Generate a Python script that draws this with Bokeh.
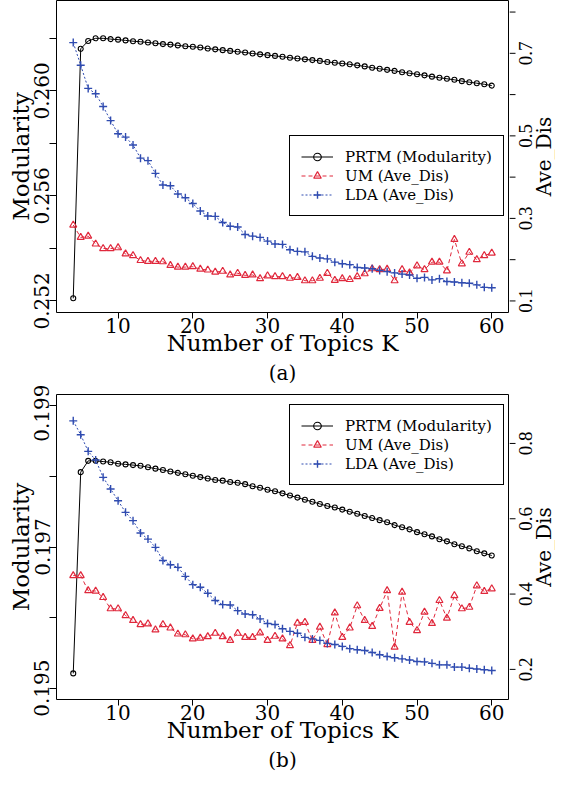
import math
from bokeh.plotting import figure
from bokeh.models import (Range1d, FixedTicker, Legend, LegendItem,
                          Title, Label, LabelSet, ColumnDataSource,
                          NumeralTickFormatter)
from bokeh.layouts import column, row
from bokeh.embed import file_html
from bokeh.resources import INLINE

# ---------------- data ----------------
K = list(range(4, 61))

prtm_a = [0.25210, 0.26160, 0.26190, 0.26200, 0.26200, 0.26197, 0.26195, 0.26192,
          0.26189, 0.26187, 0.26184, 0.26181, 0.26178, 0.26176, 0.26173, 0.26170,
          0.26168, 0.26165, 0.26161, 0.26158, 0.26155, 0.26152, 0.26149, 0.26146,
          0.26142, 0.26139, 0.26136, 0.26133, 0.26130, 0.26126, 0.26123, 0.26120,
          0.26117, 0.26114, 0.26110, 0.26107, 0.26104, 0.26101, 0.26097, 0.26093,
          0.26088, 0.26084, 0.26080, 0.26076, 0.26071, 0.26067, 0.26063, 0.26059,
          0.26054, 0.26050, 0.26046, 0.26042, 0.26037, 0.26033, 0.26029, 0.26025,
          0.26020]
um_a = [0.284, 0.254, 0.257, 0.238, 0.227, 0.227, 0.229, 0.214, 0.210, 0.198,
        0.196, 0.196, 0.195, 0.186, 0.182, 0.182, 0.183, 0.177, 0.175, 0.170,
        0.172, 0.163, 0.167, 0.162, 0.163, 0.154, 0.161, 0.159, 0.159, 0.155,
        0.157, 0.149, 0.149, 0.155, 0.167, 0.150, 0.154, 0.152, 0.159, 0.166,
        0.178, 0.176, 0.177, 0.149, 0.176, 0.168, 0.185, 0.176, 0.194, 0.194,
        0.173, 0.249, 0.190, 0.218, 0.200, 0.210, 0.216]
lda_a = [0.726, 0.671, 0.615, 0.602, 0.571, 0.537, 0.505, 0.497, 0.478, 0.446,
         0.440, 0.409, 0.381, 0.379, 0.359, 0.350, 0.336, 0.318, 0.306, 0.305,
         0.290, 0.281, 0.279, 0.261, 0.257, 0.254, 0.245, 0.238, 0.237, 0.224,
         0.220, 0.219, 0.208, 0.204, 0.202, 0.194, 0.190, 0.188, 0.181, 0.180,
         0.178, 0.174, 0.171, 0.168, 0.165, 0.163, 0.155, 0.157, 0.151, 0.154,
         0.147, 0.146, 0.144, 0.143, 0.139, 0.133, 0.132]

prtm_b = [0.19521, 0.19806, 0.19822, 0.19822, 0.19821, 0.19820, 0.19818, 0.19817,
          0.19816, 0.19815, 0.19813, 0.19811, 0.19809, 0.19807, 0.19805, 0.19803,
          0.19801, 0.19799, 0.19797, 0.19795, 0.19794, 0.19792, 0.19791, 0.19789,
          0.19786, 0.19784, 0.19781, 0.19779, 0.19776, 0.19773, 0.19770, 0.19767,
          0.19764, 0.19761, 0.19758, 0.19756, 0.19753, 0.19750, 0.19747, 0.19744,
          0.19741, 0.19738, 0.19735, 0.19731, 0.19728, 0.19725, 0.19721, 0.19718,
          0.19715, 0.19711, 0.19708, 0.19704, 0.19701, 0.19698, 0.19694, 0.19691,
          0.19688]
um_b = [0.449, 0.449, 0.409, 0.408, 0.391, 0.361, 0.361, 0.343, 0.330, 0.319,
        0.321, 0.305, 0.319, 0.310, 0.294, 0.292, 0.281, 0.283, 0.287, 0.296,
        0.287, 0.277, 0.296, 0.285, 0.285, 0.297, 0.277, 0.288, 0.281, 0.263,
        0.323, 0.325, 0.277, 0.312, 0.266, 0.350, 0.285, 0.310, 0.369, 0.330,
        0.314, 0.362, 0.409, 0.259, 0.405, 0.325, 0.303, 0.352, 0.322, 0.383,
        0.336, 0.396, 0.361, 0.365, 0.422, 0.407, 0.414]
lda_b = [0.860, 0.823, 0.779, 0.756, 0.710, 0.679, 0.648, 0.617, 0.595, 0.562,
         0.546, 0.524, 0.489, 0.478, 0.471, 0.447, 0.425, 0.418, 0.402, 0.383,
         0.372, 0.371, 0.356, 0.347, 0.345, 0.334, 0.322, 0.319, 0.308, 0.301,
         0.296, 0.285, 0.281, 0.277, 0.269, 0.266, 0.261, 0.255, 0.252, 0.250,
         0.245, 0.239, 0.234, 0.231, 0.228, 0.225, 0.221, 0.220, 0.216, 0.212,
         0.212, 0.206, 0.206, 0.203, 0.201, 0.199, 0.197]

x_ticks = [10, 20, 30, 40, 50, 60]
left_a_major = [0.252, 0.256, 0.260]
left_a_minor = [0.254, 0.258, 0.262]
right_a_major = [0.1, 0.3, 0.5, 0.7]
right_a_minor = [0.2, 0.4, 0.6, 0.8]
left_b_major = [0.195, 0.197, 0.199]
left_b_minor = [0.196, 0.198]
right_b_major = [0.2, 0.4, 0.6, 0.8]
right_b_minor = []

labels = ["PRTM (Modularity)", "UM (Ave_Dis)", "LDA (Ave_Dis)"]

FONT = "DejaVu Serif"
RED = "#e0283c"
BLUE = "#2f4bb0"
X_RANGE = (1.76, 62.24)
FRAME_W = 452
SIDE_W = 46
TICK_LEN = 6


def style_axis(ax, tick_px="20px", title_px="23px", tick_out=7,
               lab_off=0, title_off=-3):
    ax.axis_line_color = None
    ax.major_tick_line_color = "black"
    ax.minor_tick_line_color = "black"
    ax.major_tick_in = 0
    ax.major_tick_out = tick_out
    ax.minor_tick_in = 0
    ax.minor_tick_out = tick_out
    ax.major_label_text_font = FONT
    ax.major_label_text_font_size = tick_px
    ax.major_label_text_color = "black"
    ax.major_label_standoff = lab_off
    ax.axis_label_text_font = FONT
    ax.axis_label_text_font_size = title_px
    ax.axis_label_text_font_style = "normal"
    ax.axis_label_text_color = "black"
    ax.axis_label_standoff = title_off


def make_panel(tag, prtm, um, lda, yl, yr, lmaj, lmin, rmaj, rmin,
               frame_h, top, legend_loc):
    p = figure(frame_width=FRAME_W, frame_height=frame_h,
               x_range=Range1d(*X_RANGE), y_range=Range1d(*yl),
               output_backend="svg", toolbar_location=None,
               min_border_left=56, min_border_right=1,
               min_border_top=top, min_border_bottom=0)
    p.xgrid.visible = False
    p.ygrid.visible = False
    p.outline_line_color = "black"
    p.outline_line_width = 1
    p.outline_line_alpha = 1
    p.extra_y_ranges = {"r": Range1d(*yr)}

    xa = p.xaxis[0]
    style_axis(xa, tick_out=TICK_LEN, lab_off=-1, title_off=-6)
    xa.ticker = FixedTicker(ticks=x_ticks, minor_ticks=[])
    xa.axis_label = "Number of Topics K"

    ya = p.yaxis[0]
    style_axis(ya, tick_out=TICK_LEN + 1, title_off=-2)
    ya.ticker = FixedTicker(ticks=lmaj, minor_ticks=lmin)
    ya.formatter = NumeralTickFormatter(format="0.000")
    ya.major_label_orientation = "vertical"
    ya.axis_label = "Modularity"

    l1 = p.line(K, prtm, line_color="black", line_width=1)
    s1 = p.scatter(K, prtm, marker="circle", size=5, fill_color=None,
                   line_color="black", line_width=1.1)
    l2 = p.line(K, um, y_range_name="r", line_color=RED, line_width=1,
                line_dash="4 3")
    s2 = p.scatter(K, um, y_range_name="r", marker="triangle", size=7,
                   fill_color=None, line_color=RED, line_width=1.2)
    l3 = p.line(K, lda, y_range_name="r", line_color=BLUE, line_width=1,
                line_dash="2 2")
    s3 = p.scatter(K, lda, y_range_name="r", marker="cross", size=8,
                   line_color=BLUE, line_width=1.4)

    legend = Legend(items=[LegendItem(label=labels[0], renderers=[l1, s1]),
                           LegendItem(label=labels[1], renderers=[l2, s2]),
                           LegendItem(label=labels[2], renderers=[l3, s3])],
                    location=legend_loc,
                    border_line_color="black", border_line_width=1,
                    border_line_alpha=1,
                    label_text_font=FONT, label_text_font_size="15px",
                    label_text_color="black",
                    glyph_width=32, glyph_height=19, label_height=19,
                    spacing=0, padding=11, margin=0, label_standoff=12,
                    background_fill_color="white", background_fill_alpha=1)
    p.add_layout(legend)

    p.add_layout(Title(text=tag, align="center", text_font=FONT,
                       text_font_size="20px", text_font_style="normal",
                       text_color="black", standoff=0), "below")

    # side panel: right-axis ticks, tick labels and title on the same y scale
    s = figure(frame_width=SIDE_W, frame_height=frame_h,
               x_range=Range1d(0, SIDE_W), y_range=Range1d(*yr),
               output_backend="svg", toolbar_location=None,
               x_axis_location=None, y_axis_location=None,
               min_border_left=0, min_border_right=0,
               min_border_top=top, min_border_bottom=40)
    for g in s.grid:
        g.visible = False
    s.outline_line_color = None
    all_ticks = rmaj + rmin
    s.segment(x0=[0] * len(all_ticks), x1=[TICK_LEN] * len(all_ticks),
              y0=all_ticks, y1=all_ticks, line_color="black", line_width=1)
    src = ColumnDataSource(dict(y=rmaj, t=["%.1f" % v for v in rmaj],
                                x=[16] * len(rmaj)))
    s.add_layout(LabelSet(x="x", y="y", text="t", source=src,
                          angle=math.pi / 2, text_align="center",
                          text_baseline="middle", text_font=FONT,
                          text_font_size="19px", text_color="black"))
    s.add_layout(Label(x=34, y=(yr[0] + yr[1]) / 2, text="Ave_Dis",
                       angle=math.pi / 2, text_align="center",
                       text_baseline="middle", text_font=FONT,
                       text_font_size="20px", text_color="black"))
    return row(p, s)


ra_ = make_panel("(a)", prtm_a, um_a, lda_a,
                 (0.25156, 0.26344), (0.072, 0.828),
                 left_a_major, left_a_minor, right_a_major, right_a_minor,
                 312, 0, (233, 96))
rb_ = make_panel("(b)", prtm_b, um_b, lda_b,
                 (0.19484, 0.19916), (0.12, 0.93),
                 left_b_major, left_b_minor, right_b_major, right_b_minor,
                 305, 10, (233, 214))

layout = column(ra_, rb_)
open("out.html", "w").write(file_html(layout, INLINE))
